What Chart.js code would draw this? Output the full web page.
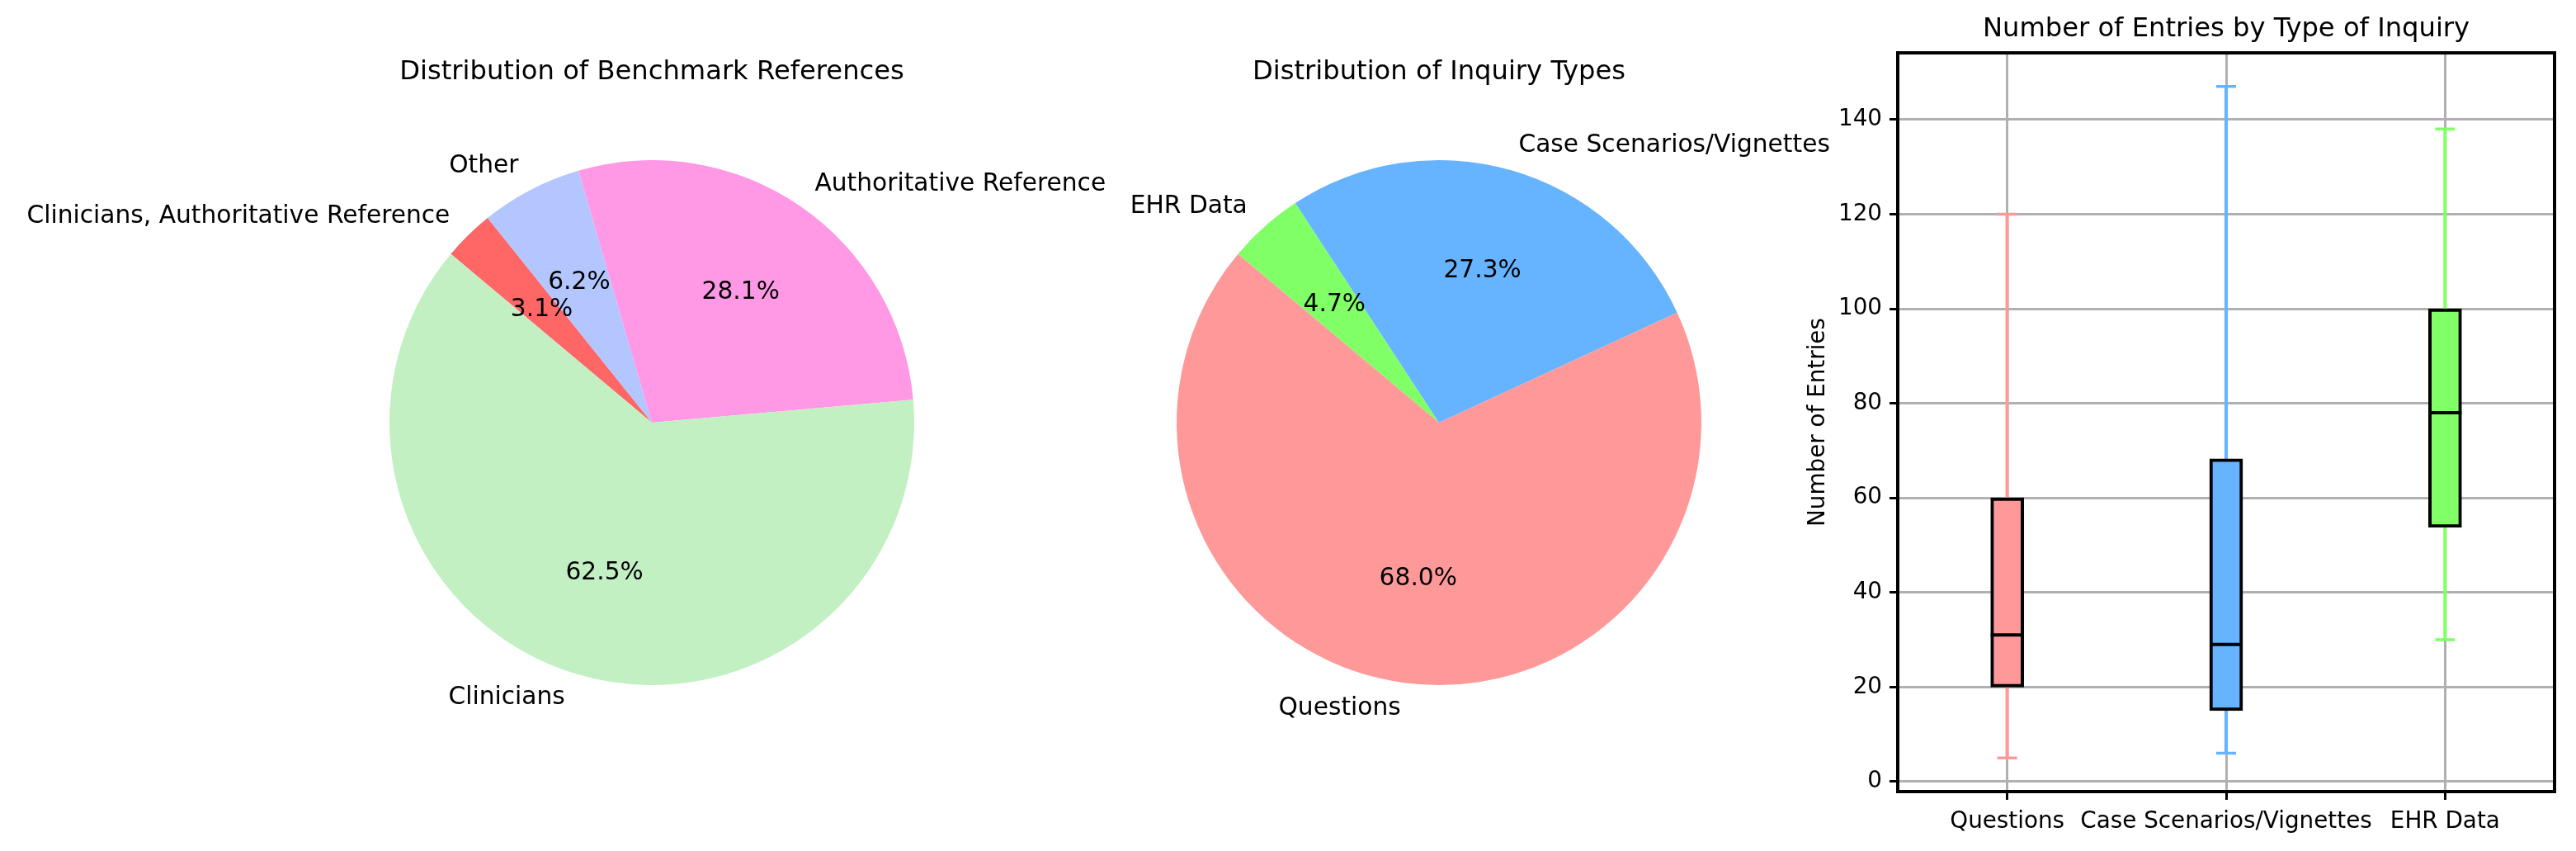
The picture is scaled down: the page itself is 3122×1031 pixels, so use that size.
<!DOCTYPE html>
<html>
<head>
<meta charset="utf-8">
<script src="https://cdn.jsdelivr.net/npm/chart.js@4.4.1/dist/chart.umd.min.js"></script>
<style>
  body { margin: 0; background: #fff; width: 3122px; height: 1031px; overflow: hidden; position: relative; }
  canvas { position: absolute; top: 0; }
</style>
</head>
<body>
<canvas id="pie-refs" width="1560" height="1031" style="left:10px"></canvas>
<canvas id="pie-types" width="1000" height="1031" style="left:1244px"></canvas>
<canvas id="box-entries" width="935" height="1031" style="left:2187px"></canvas>
<script>
// benchmark references pie (matplotlib order, counter-clockwise from 140 deg)
const refLabels = ['Clinicians', 'Authoritative Reference', 'Other', 'Clinicians, Authoritative Reference'];
const refCounts = [20, 9, 2, 1];
const refColors = ['#c2f0c2', '#ff99e6', '#b3c6ff', '#ff6666'];

// inquiry types pie
const typeLabels = ['Questions', 'Case Scenarios/Vignettes', 'EHR Data'];
const typeCounts = [102, 41, 7];
const typeColors = ['#ff9999', '#66b3ff', '#80ff66'];

// box plot stats per inquiry type
const boxLow = [5, 6, 30];
const boxQ1 = [20, 15, 53.75];
const boxMedian = [31, 29, 78];
const boxQ3 = [60, 68.25, 100];
const boxHigh = [120, 147, 138];
const yTicks = [0, 20, 40, 60, 80, 100, 120, 140];

Chart.defaults.font.family = '"DejaVu Sans"';
Chart.defaults.color = '#000';

const TITLE_PX = 32.2;
const PIE_TEXT_PX = 29.7;
const TEXT_PX = 27.8;

// python style '%1.1f' (round half to even), so 6.25 shows as 6.2
function pct(v) {
    const x = v * 10;
    let r = Math.round(x);
    if (Math.abs(x - Math.floor(x) - 0.5) < 1e-9 && Math.floor(x) % 2 === 0) r = Math.floor(x);
    return (r / 10).toFixed(1) + '%';
}

// labels outside at 1.1r and percentages at 0.6r, like matplotlib's pie
const pieLabels = {
    id: 'pieLabels',
    afterDatasetsDraw(chart) {
        const ctx = chart.ctx;
        const meta = chart.getDatasetMeta(0);
        const values = chart.data.datasets[0].data;
        const total = values.reduce((a, b) => a + b, 0);
        ctx.save();
        ctx.fillStyle = '#000';
        ctx.font = PIE_TEXT_PX + 'px "DejaVu Sans"';
        ctx.textBaseline = 'middle';
        meta.data.forEach((arc, i) => {
            const mid = (arc.startAngle + arc.endAngle) / 2;
            const r = arc.outerRadius;
            const cos = Math.cos(mid), sin = Math.sin(mid);
            ctx.textAlign = cos > 0 ? 'left' : 'right';
            ctx.fillText(chart.data.labels[i], arc.x + cos * r * 1.1, arc.y + sin * r * 1.1);
            ctx.textAlign = 'center';
            ctx.fillText(pct(values[i] / total * 100), arc.x + cos * r * 0.6, arc.y + sin * r * 0.6);
        });
        ctx.restore();
    }
};

function makePie(id, title, labels, counts, colors, sidePad) {
    // chart.js goes clockwise, matplotlib counter-clockwise: reverse and start at 140 deg
    new Chart(document.getElementById(id), {
        type: 'pie',
        data: {
            labels: labels.slice().reverse(),
            datasets: [{
                data: counts.slice().reverse(),
                backgroundColor: colors.slice().reverse(),
                borderWidth: 0
            }]
        },
        options: {
            responsive: false,
            animation: false,
            devicePixelRatio: 1,
            rotation: -50,
            layout: { padding: { left: sidePad, right: sidePad, top: 0, bottom: 201 } },
            plugins: {
                legend: { display: false },
                tooltip: { enabled: false },
                title: {
                    display: true,
                    text: title,
                    color: '#000',
                    font: { size: TITLE_PX, weight: 'normal' },
                    padding: { top: 68, bottom: 87.4 }
                }
            }
        },
        plugins: [pieLabels]
    });
}

makePie('pie-refs', 'Distribution of Benchmark References', refLabels, refCounts, refColors, 462);
makePie('pie-types', 'Distribution of Inquiry Types', typeLabels, typeCounts, typeColors, 182);

// full black frame around the box plot axes
const frame = {
    id: 'frame',
    afterDraw(chart) {
        const a = chart.chartArea;
        const ctx = chart.ctx;
        ctx.save();
        ctx.strokeStyle = '#000';
        ctx.lineWidth = 4;
        ctx.strokeRect(a.left, a.top, a.right - a.left, a.bottom - a.top);
        ctx.restore();
    }
};

new Chart(document.getElementById('box-entries'), {
    type: 'bar',
    data: {
        labels: typeLabels,
        datasets: [
            {
                // median lines
                type: 'line',
                data: boxMedian,
                showLine: false,
                pointStyle: 'line',
                pointRadius: 20,
                pointBorderWidth: 4,
                pointBorderColor: '#000',
                order: 0
            },
            {
                // boxes Q1..Q3
                data: boxQ1.map((q, i) => [q, boxQ3[i]]),
                backgroundColor: typeColors,
                borderColor: '#000',
                borderWidth: 4,
                borderSkipped: false,
                barThickness: 40,
                grouped: false,
                order: 1
            },
            {
                // caps
                type: 'line',
                data: boxLow,
                showLine: false,
                pointStyle: 'line',
                pointRadius: 12,
                pointBorderWidth: 3.5,
                pointBorderColor: typeColors,
                order: 2
            },
            {
                type: 'line',
                data: boxHigh,
                showLine: false,
                pointStyle: 'line',
                pointRadius: 12,
                pointBorderWidth: 3.5,
                pointBorderColor: typeColors,
                order: 2
            },
            {
                // whiskers
                data: boxLow.map((v, i) => [v, boxQ1[i]]),
                backgroundColor: typeColors,
                borderWidth: 0,
                barThickness: 3.5,
                grouped: false,
                order: 3
            },
            {
                data: boxQ3.map((v, i) => [v, boxHigh[i]]),
                backgroundColor: typeColors,
                borderWidth: 0,
                barThickness: 3.5,
                grouped: false,
                order: 3
            }
        ]
    },
    options: {
        responsive: false,
        animation: false,
        devicePixelRatio: 1,
        layout: { padding: { left: 0, right: 26, top: 0, bottom: 0 } },
        scales: {
            x: {
                offset: true,
                grid: { offset: false, color: '#b0b0b0', lineWidth: 3, tickLength: 10, tickColor: '#000', tickWidth: 3 },
                border: { display: false },
                ticks: { font: { size: TEXT_PX }, padding: 10, maxRotation: 0, autoSkip: false },
                afterFit: s => { s.height = 72; }
            },
            y: {
                min: -2.1,
                max: 154.1,
                grid: { color: '#b0b0b0', lineWidth: 3, tickLength: 10, tickColor: '#000', tickWidth: 3 },
                border: { display: false },
                ticks: { font: { size: TEXT_PX }, padding: 9 },
                title: { display: true, text: 'Number of Entries', font: { size: TEXT_PX }, padding: 0 },
                afterBuildTicks: axis => { axis.ticks = yTicks.map(v => ({ value: v })); },
                afterFit: s => { s.width = 113; }
            }
        },
        plugins: {
            legend: { display: false },
            tooltip: { enabled: false },
            title: {
                display: true,
                fullSize: false,
                text: 'Number of Entries by Type of Inquiry',
                color: '#000',
                font: { size: TITLE_PX, weight: 'normal' },
                padding: { top: 16, bottom: 9.4 }
            }
        }
    },
    plugins: [frame]
});
</script>
</body>
</html>
